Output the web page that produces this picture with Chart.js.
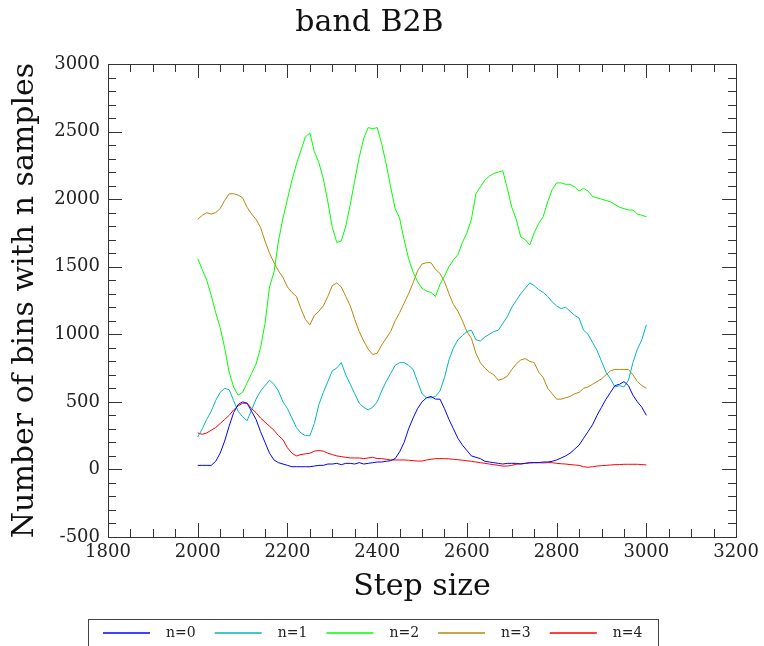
<!DOCTYPE html>
<html>
<head>
<meta charset="utf-8">
<script src="https://cdn.jsdelivr.net/npm/chart.js@4.4.1/dist/chart.umd.min.js"></script>
<style>
  html, body { margin: 0; padding: 0; background: #fff; }
  #wrap { width: 764px; height: 646px; }
</style>
</head>
<body>
<div id="wrap"><canvas id="bandChart" width="764" height="646"></canvas></div>
<script>
const steps = [
  2000, 2010, 2020, 2030, 2040, 2050, 2060, 2070, 2080, 2090,
  2100, 2110, 2120, 2130, 2140, 2150, 2160, 2170, 2180, 2190,
  2200, 2210, 2220, 2230, 2240, 2250, 2260, 2270, 2280, 2290,
  2300, 2310, 2320, 2330, 2340, 2350, 2360, 2370, 2380, 2390,
  2400, 2410, 2420, 2430, 2440, 2450, 2460, 2470, 2480, 2490,
  2500, 2510, 2520, 2530, 2540, 2550, 2560, 2570, 2580, 2590,
  2600, 2610, 2620, 2630, 2640, 2650, 2660, 2670, 2680, 2690,
  2700, 2710, 2720, 2730, 2740, 2750, 2760, 2770, 2780, 2790,
  2800, 2810, 2820, 2830, 2840, 2850, 2860, 2870, 2880, 2890,
  2900, 2910, 2920, 2930, 2940, 2950, 2960, 2970, 2980, 2990,
  3000
];

const n0 = [
  30, 30, 30, 30, 60, 120, 210, 320, 420, 480,
  500, 490, 430, 370, 280, 200, 120, 70, 50, 40,
  30, 20, 20, 20, 20, 20, 25, 30, 30, 40,
  40, 45, 35, 45, 45, 40, 50, 40, 45, 50,
  55, 55, 60, 65, 80, 130, 200, 300, 380, 450,
  500, 530, 540, 520, 520, 450, 370, 300, 230, 180,
  140, 100, 90, 80, 60, 55, 50, 45, 40, 45,
  45, 45, 40, 45, 50, 50, 50, 55, 55, 60,
  70, 85, 100, 120, 150, 180, 230, 280, 330, 400,
  460, 520, 570, 620, 630, 650, 620, 550, 500, 460,
  400
];

const n1 = [
  240, 300, 370, 430, 510, 570, 600, 590, 510, 430,
  390, 360, 440, 520, 580, 620, 660, 630, 580, 500,
  450, 380, 310, 270, 250, 250, 340, 480, 570, 650,
  730, 750, 790, 700, 630, 560, 490, 460, 440, 460,
  500, 580, 650, 710, 770, 790, 790, 770, 740, 650,
  560, 530, 530, 540, 580, 680, 810, 900, 960, 990,
  1020, 1030, 960, 950, 980, 1000, 1020, 1030, 1080, 1130,
  1200, 1250, 1300, 1340, 1380, 1360, 1330, 1310, 1280, 1240,
  1210, 1190, 1200, 1170, 1140, 1120, 1030, 1000, 940, 880,
  800, 720, 670, 610, 620, 610, 660, 790, 890, 960,
  1070
];

const n2 = [
  1560, 1480, 1400, 1290, 1160, 1050, 900, 720, 610, 550,
  570, 640, 710, 780, 900, 1080, 1350, 1460, 1690, 1860,
  2000, 2140, 2260, 2360, 2460, 2490, 2350, 2270, 2150, 1980,
  1790, 1680, 1690, 1800, 1960, 2140, 2310, 2450, 2530, 2520,
  2530, 2410, 2260, 2090, 1930, 1860, 1700, 1560, 1460, 1390,
  1340, 1320, 1310, 1280, 1370, 1430, 1500, 1550, 1590, 1680,
  1750, 1850, 2040, 2090, 2140, 2170, 2190, 2200, 2210, 2080,
  1940, 1850, 1720, 1700, 1660, 1750, 1820, 1870, 1980, 2070,
  2120, 2120, 2110, 2110, 2090, 2060, 2080, 2060, 2020, 2010,
  2000, 1990, 1980, 1960, 1940, 1930, 1920, 1920, 1890, 1880,
  1870
];

const n3 = [
  1850, 1880, 1900, 1890, 1900, 1930, 1990, 2040, 2040, 2030,
  2010, 1940, 1890, 1850, 1790, 1690, 1600, 1530, 1470, 1420,
  1350, 1310, 1280, 1190, 1110, 1070, 1140, 1170, 1210, 1280,
  1360, 1380, 1350, 1280, 1210, 1110, 1020, 950, 890, 850,
  860, 920, 970, 1020, 1100, 1160, 1230, 1300, 1380, 1470,
  1520, 1530, 1530, 1480, 1450, 1390, 1300, 1220, 1170, 1100,
  1020, 970, 860, 790, 750, 720, 700, 660, 670, 690,
  740, 780, 810, 820, 800, 790, 720, 680, 600, 560,
  520, 520, 530, 540, 560, 570, 600, 610, 630, 650,
  670, 700, 730, 740, 740, 740, 740, 700, 650, 620,
  600
];

const n4 = [
  270, 260, 270, 290, 310, 340, 370, 400, 440, 470,
  490, 490, 450, 420, 380, 350, 320, 290, 250, 220,
  160, 120, 100, 110, 115, 120, 135, 140, 135, 120,
  110, 100, 95, 90, 85, 85, 85, 80, 85, 90,
  80, 80, 75, 70, 70, 70, 70, 68, 65, 62,
  62, 70, 75, 80, 80, 80, 78, 75, 72, 68,
  64, 60, 55, 50, 45, 40, 35, 30, 25, 25,
  30, 38, 42, 45, 48, 50, 50, 48, 50, 50,
  45, 42, 40, 36, 33, 30, 20, 16, 20, 25,
  28, 30, 33, 35, 36, 38, 38, 38, 38, 36,
  33
];

const seriesLabels = ['n=0', 'n=1', 'n=2', 'n=3', 'n=4'];
const seriesColors = ['#0000ff', '#00b8b8', '#00ff00', '#b8860b', '#ff0000'];
const xTicks = [1800, 2000, 2200, 2400, 2600, 2800, 3000, 3200];
const yTicks = [-500, 0, 500, 1000, 1500, 2000, 2500, 3000];

const serif = "'DejaVu Serif', 'Liberation Serif', serif";

function toPoints(values) {
  return values.map(function(v, i) { return { x: steps[i], y: v }; });
}

// frame with inward major/minor ticks on all four sides
const framePlugin = {
  id: 'frame',
  afterDatasetsDraw(chart) {
    const { ctx, chartArea: a, scales: { x, y } } = chart;
    ctx.save();
    ctx.strokeStyle = '#333';
    ctx.lineWidth = 1;
    ctx.strokeRect(Math.round(a.left) + 0.5, Math.round(a.top) + 0.5,
      Math.round(a.width), Math.round(a.height));
    ctx.beginPath();
    for (let v = x.min; v <= x.max; v += 50) {
      const px = Math.round(x.getPixelForValue(v)) + 0.5;
      const len = xTicks.includes(v) ? 14 : 8;
      ctx.moveTo(px, a.bottom); ctx.lineTo(px, a.bottom - len);
      ctx.moveTo(px, a.top); ctx.lineTo(px, a.top + len);
    }
    for (let v = y.min; v <= y.max; v += 100) {
      const py = Math.round(y.getPixelForValue(v)) + 0.5;
      const len = yTicks.includes(v) ? 14 : 8;
      ctx.moveTo(a.left, py); ctx.lineTo(a.left + len, py);
      ctx.moveTo(a.right, py); ctx.lineTo(a.right - len, py);
    }
    ctx.stroke();
    ctx.restore();
  }
};

// boxed legend row under the axis title
const legendBox = {
  id: 'legendBox',
  afterDraw(chart) {
    const ctx = chart.ctx;
    const top = 619.5, left = 88.5, width = 570;
    ctx.save();
    ctx.lineWidth = 1;
    ctx.strokeStyle = '#444';
    ctx.strokeRect(left, top, width, 40);
    ctx.font = '14px ' + serif;
    ctx.textBaseline = 'middle';
    ctx.fillStyle = '#222';
    seriesLabels.forEach(function(label, i) {
      const lx = 103 + i * 111.7;
      const ly = 633;
      ctx.beginPath();
      ctx.lineWidth = 1.6;
      ctx.strokeStyle = seriesColors[i];
      ctx.moveTo(lx, ly);
      ctx.lineTo(lx + 47, ly);
      ctx.stroke();
      ctx.fillText(label, lx + 63, ly + 0.5);
    });
    ctx.restore();
  }
};

const allSeries = [n0, n1, n2, n3, n4];

function plainNumber(v) { return String(v); }

new Chart(document.getElementById('bandChart'), {
  type: 'line',
  data: {
    datasets: allSeries.map(function(vals, i) {
      return {
        label: seriesLabels[i],
        data: toPoints(vals),
        borderColor: seriesColors[i],
        backgroundColor: seriesColors[i],
        borderWidth: 1,
        pointRadius: 0,
        tension: 0,
        fill: false
      };
    })
  },
  options: {
    responsive: false,
    animation: false,
    layout: { padding: { left: 0, right: 25, top: 0, bottom: 37 } },
    plugins: {
      legend: { display: false },
      tooltip: { enabled: false },
      title: {
        display: true,
        text: 'band B2B',
        color: '#111',
        font: { family: serif, size: 30, weight: 'normal' },
        padding: { top: 5, bottom: 23 }
      }
    },
    scales: {
      x: {
        type: 'linear',
        min: 1800,
        max: 3200,
        afterFit: function(scale) { scale.height = 72; },
        afterBuildTicks: function(scale) { scale.ticks = xTicks.map(function(v) { return { value: v }; }); },
        grid: { display: false, drawTicks: false },
        border: { display: false },
        ticks: { padding: 5, color: '#222', maxRotation: 0, callback: plainNumber, font: { family: serif, size: 18 } },
        title: {
          display: true,
          text: 'Step size',
          color: '#111',
          padding: { top: 0, bottom: 4 },
          font: { family: serif, size: 30 }
        }
      },
      y: {
        type: 'linear',
        min: -500,
        max: 3000,
        afterFit: function(scale) { scale.width = 108; },
        afterBuildTicks: function(scale) { scale.ticks = yTicks.map(function(v) { return { value: v }; }); },
        grid: { display: false, drawTicks: false },
        border: { display: false },
        ticks: { padding: 8, color: '#222', callback: plainNumber, font: { family: serif, size: 18 } },
        title: {
          display: true,
          text: 'Number of bins with n samples',
          color: '#111',
          padding: { top: 7, bottom: 0 },
          font: { family: serif, size: 30 }
        }
      }
    }
  },
  plugins: [framePlugin, legendBox]
});
</script>
</body>
</html>
